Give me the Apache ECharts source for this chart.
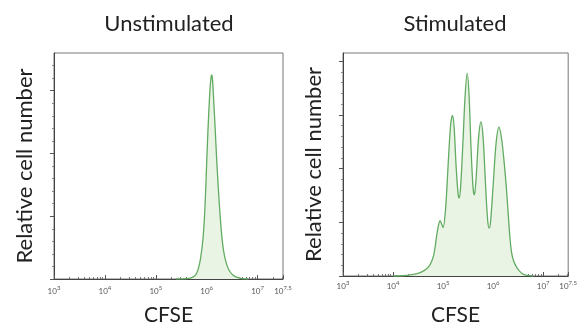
<!DOCTYPE html>
<html><head><meta charset="utf-8">
<script src="https://cdn.jsdelivr.net/npm/echarts@6/dist/echarts.min.js"></script>
<style>html,body{margin:0;padding:0;background:#fff}#c{width:580px;height:331px}</style>
</head><body><div id="c"></div>
<script>
// x values are log10(CFSE), y values are relative cell counts
const panelTitles = ['Unstimulated', 'Stimulated'];
const xTickExponents = [3, 4, 5, 6, 7, 7.5];
const unstimulated = [[5.40,0],[5.55,0.3],[5.65,1],[5.72,2.5],[5.78,6],[5.83,15],[5.88,33],[5.93,66],[5.97,120],[6.00,185],[6.03,245],[6.06,295],[6.085,321],[6.10,325],[6.115,318],[6.14,282],[6.17,235],[6.20,185],[6.25,118],[6.29,75],[6.33,46],[6.38,27],[6.44,14],[6.52,6],[6.60,2.5],[6.70,0.7],[6.82,0]];
const stimulated = [[4.00,0],[4.2,0.5],[4.35,2],[4.5,5],[4.62,10],[4.71,17],[4.77,27],[4.81,38],[4.84,53],[4.87,74],[4.91,95],[4.94,103],[4.975,96],[5.00,90],[5.05,125],[5.10,205],[5.15,280],[5.187,299],[5.22,278],[5.26,205],[5.30,153],[5.319,145],[5.35,165],[5.40,255],[5.44,335],[5.482,377],[5.52,335],[5.56,235],[5.60,163],[5.627,151],[5.66,182],[5.71,258],[5.757,287],[5.80,258],[5.85,168],[5.89,105],[5.922,89],[5.95,102],[6.00,168],[6.06,248],[6.118,277],[6.17,255],[6.22,212],[6.26,170],[6.30,118],[6.335,72],[6.37,43],[6.41,28],[6.46,18],[6.52,10],[6.59,4],[6.68,1],[6.80,0]];
const yMax = [360, 415];

const FONT = 'Lato, "Open Sans", sans-serif';
const minorX = [];
for (let e = 3; e < 7.5; e++) for (let k = 2; k <= 9; k++) { const v = e + Math.log10(k); if (v < 7.5) minorX.push(v); }
function minorY(max){ const a=[]; for(let v=20; v<max; v+=20){ if(v%100!==0) a.push(v);} return a; }
function majorY(max){ const a=[]; for(let v=0; v<=max; v+=100) a.push(v); return a; }

const grids = [
  {left:54, top:53, width:229, height:229, show:true, borderColor:'#777', borderWidth:1},
  {left:343, top:53, width:229, height:226, show:true, borderColor:'#777', borderWidth:1}
];
const xAxes = [], yAxes = [], series = [];
[0,1].forEach(i => {
  xAxes.push({type:'value', gridIndex:i, min:3, max:7.5, name:'CFSE', nameLocation:'middle', nameGap: i===0?26:29,
    nameTextStyle:{fontFamily:FONT, fontSize:21, color:'#222'},
    axisLine:{lineStyle:{color:'#444', width:1}}, splitLine:{show:false},
    axisTick:{inside:true, length:4, customValues:xTickExponents, lineStyle:{color:'#555'}},
    axisLabel:{customValues:xTickExponents, margin: i===0?6:4, color:'#555', fontFamily:FONT,
      formatter: v => '{b|10}{s|' + v + '}',
      rich:{b:{fontSize:8, color:'#555', fontFamily:FONT}, s:{fontSize:6, color:'#555', fontFamily:FONT, padding:[0,0,6,0]}}}});
  xAxes.push({type:'value', gridIndex:i, min:3, max:7.5, position:'bottom',
    axisLine:{show:false}, splitLine:{show:false}, axisLabel:{show:false},
    axisTick:{inside:true, length:2, customValues:minorX, lineStyle:{color:'#777'}}});
  yAxes.push({type:'value', gridIndex:i, min:0, max:yMax[i], name:'Relative cell number', nameLocation:'middle', nameGap:18,
    nameTextStyle:{fontFamily:FONT, fontSize:22, color:'#222'},
    axisLine:{show:true, lineStyle:{color:'#444', width:1}}, splitLine:{show:false}, axisLabel:{show:false},
    axisTick:{show:true, length:4, customValues:majorY(yMax[i]), lineStyle:{color:'#555'}}});
  yAxes.push({type:'value', gridIndex:i, min:0, max:yMax[i], position:'left',
    axisLine:{show:false}, splitLine:{show:false}, axisLabel:{show:false},
    axisTick:{show:true, length:2, customValues:minorY(yMax[i]), lineStyle:{color:'#888'}}});
  series.push({type:'line', xAxisIndex:i*2, yAxisIndex:i*2, data: i===0?unstimulated:stimulated,
    smooth:0.3, showSymbol:false, symbol:'none', lineStyle:{color:'#62ab62', width:1.3},
    areaStyle:{color:'#eaf4e5', opacity:1}, silent:true});
});

const chart = echarts.init(document.getElementById('c'), null, {renderer:'canvas'});
chart.setOption({
  animation:false,
  grid: grids, xAxis: xAxes, yAxis: yAxes, series: series,
  graphic: [
    {type:'text', x:169, y:24, style:{text:panelTitles[0], align:'center', verticalAlign:'middle', font:'22px ' + FONT, fill:'#222'}},
    {type:'text', x:455, y:24, style:{text:panelTitles[1], align:'center', verticalAlign:'middle', font:'22px ' + FONT, fill:'#222'}}
  ]
});
</script></body></html>
